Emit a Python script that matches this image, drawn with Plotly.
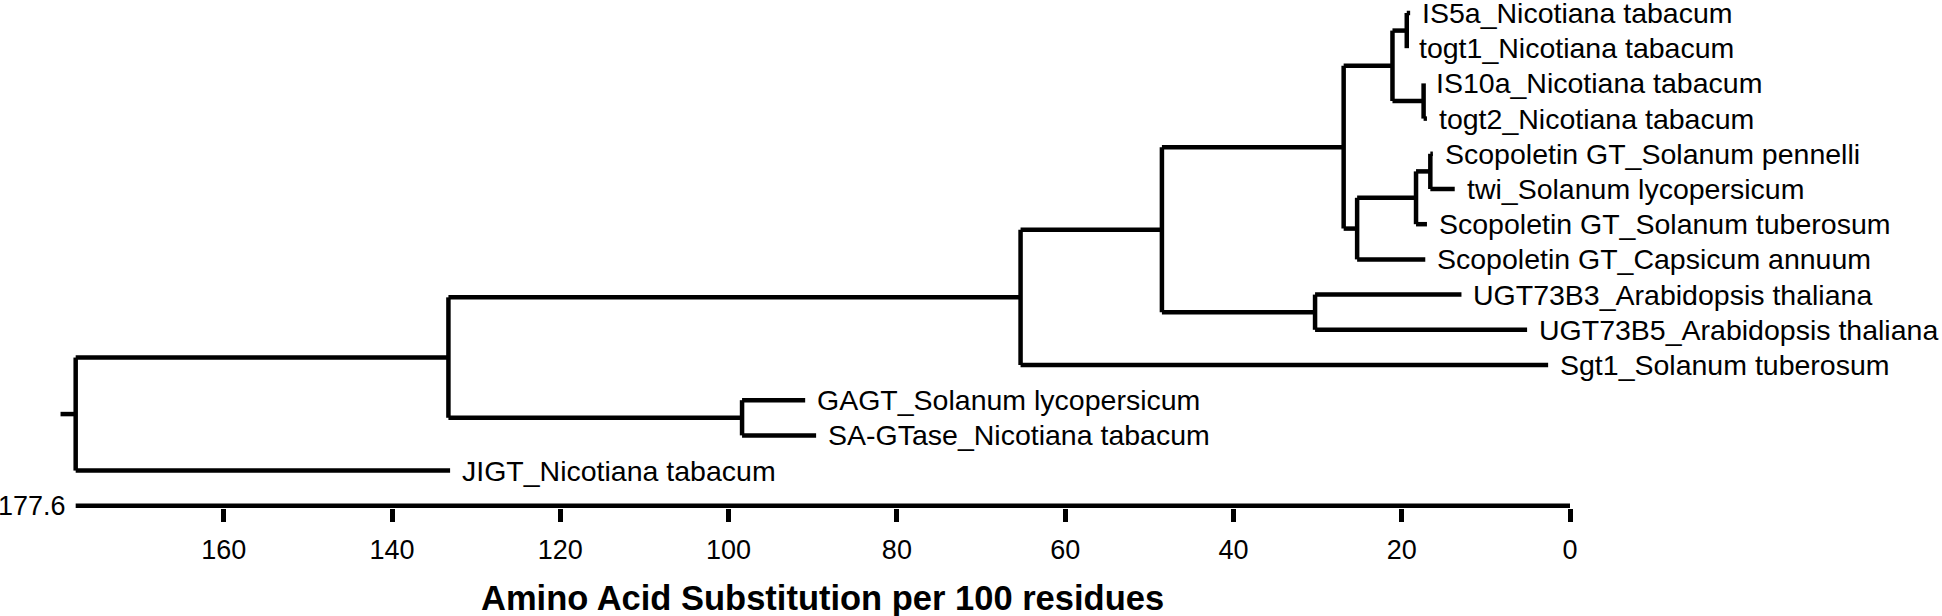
import plotly.graph_objects as go

# ---------------- data ----------------
leaf_names = [
    "IS5a_Nicotiana tabacum",
    "togt1_Nicotiana tabacum",
    "IS10a_Nicotiana tabacum",
    "togt2_Nicotiana tabacum",
    "Scopoletin GT_Solanum pennelli",
    "twi_Solanum lycopersicum",
    "Scopoletin GT_Solanum tuberosum",
    "Scopoletin GT_Capsicum annuum",
    "UGT73B3_Arabidopsis thaliana",
    "UGT73B5_Arabidopsis thaliana",
    "Sgt1_Solanum tuberosum",
    "GAGT_Solanum lycopersicum",
    "SA-GTase_Nicotiana tabacum",
    "JIGT_Nicotiana tabacum",
]
# tip position of each leaf (substitutions per 100 residues, axis runs 177.6 -> 0)
leaf_tips = [19.0, 19.4, 17.4, 17.0, 16.3, 13.7, 17.0, 17.2, 12.9, 5.1, 2.6, 90.9, 89.6, 133.1]

# internal nodes: (child_a, child_b, node position); ids continue after the leaves
merges = [
    (0, 1, 19.4),     # 14
    (2, 3, 17.4),     # 15
    (14, 15, 21.1),   # 16
    (4, 5, 16.6),     # 17
    (17, 6, 18.3),    # 18
    (18, 7, 25.3),    # 19
    (16, 19, 26.9),   # 20
    (8, 9, 30.3),     # 21
    (20, 21, 48.5),   # 22
    (22, 10, 65.3),   # 23
    (11, 12, 98.4),   # 24
    (23, 24, 133.3),  # 25
    (25, 13, 177.6),  # 26 root
]
root_edge = 1.8
axis_max = 177.6
tick_vals = [160, 140, 120, 100, 80, 60, 40, 20, 0]
axis_title = "Amino Acid Substitution per 100 residues"

# ---------------- layout of the tree ----------------
n_leaf = len(leaf_names)
node_x = list(leaf_tips)
node_y = list(range(n_leaf))
for a, b, h in merges:
    node_x.append(h)
    node_y.append((node_y[a] + node_y[b]) / 2.0)

xs, ys = [], []
for a, b, h in merges:
    xs += [h, h, None]
    ys += [node_y[a], node_y[b], None]
    for c in (a, b):
        xs += [h, node_x[c], None]
        ys += [node_y[c], node_y[c], None]
root = n_leaf + len(merges) - 1
xs += [node_x[root], node_x[root] + root_edge, None]
ys += [node_y[root], node_y[root], None]

axis_y = n_leaf  # baseline of the scale bar

FONT = "Liberation Sans, Arial, Helvetica, sans-serif"
LW = 4.5

fig = go.Figure()
fig.add_trace(go.Scatter(x=xs, y=ys, mode="lines",
                         line=dict(color="black", width=LW),
                         hoverinfo="skip", showlegend=False))
fig.add_trace(go.Scatter(x=[axis_max, 0], y=[axis_y, axis_y], mode="lines",
                         line=dict(color="black", width=LW),
                         hoverinfo="skip", showlegend=False))

annotations = []
for name, tx, ty in zip(leaf_names, leaf_tips, range(n_leaf)):
    annotations.append(dict(x=tx, y=ty, xref="x", yref="y", text=name,
                            showarrow=False, xanchor="left", yanchor="middle",
                            xshift=10, font=dict(family=FONT, size=28.5, color="black")))
annotations.append(dict(x=axis_max, y=axis_y, xref="x", yref="y", text=str(axis_max),
                        showarrow=False, xanchor="right", yanchor="middle",
                        xshift=-8, font=dict(family=FONT, size=27, color="black")))
annotations.append(dict(x=axis_max / 2, y=-0.177, xref="x", yref="paper",
                        text="<b>%s</b>" % axis_title,
                        showarrow=False, xanchor="center", yanchor="middle",
                        font=dict(family=FONT, size=34.5, color="black")))

fig.update_layout(
    width=1942, height=616,
    margin=dict(l=40, r=300, t=0, b=108),
    paper_bgcolor="white", plot_bgcolor="white",
    showlegend=False,
    annotations=annotations,
    xaxis=dict(range=[181.84, -8.557], tickvals=tick_vals,
               ticktext=[str(v) for v in tick_vals],
               ticks="outside", ticklen=13, tickwidth=LW, tickcolor="black",
               ticklabelstandoff=5,
               showline=False, zeroline=False, showgrid=False,
               tickfont=dict(family=FONT, size=27, color="black")),
    yaxis=dict(range=[14.063, -0.369], visible=False, showgrid=False, zeroline=False),
)

fig.write_html("out.html", config={"displayModeBar": False},
               post_script="document.body.style.margin='0px';")
